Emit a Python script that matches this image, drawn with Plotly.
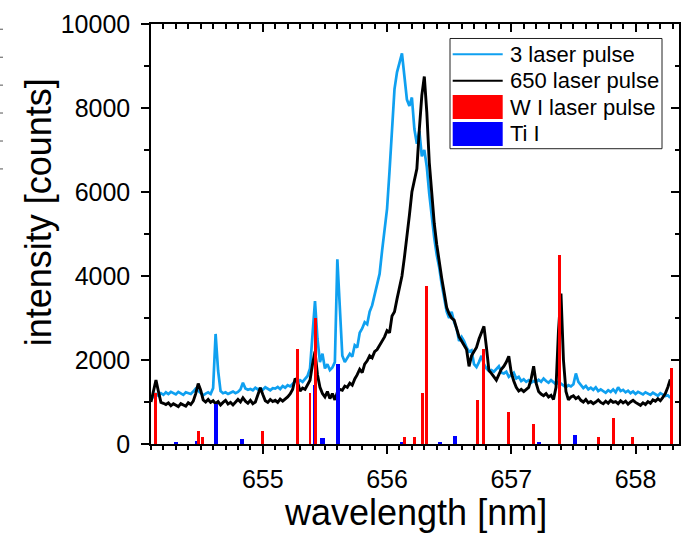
import numpy as np
import plotly.graph_objects as go

# Sampling grid of the recorded spectra (nm)
wavelength = np.round(np.arange(654.10, 658.28 + 1e-9, 0.02), 2)

# Spectrum recorded after 3 laser pulses (counts)
intensity_3_pulses = [
    1050, 1140, 1190, 1150, 1210, 1170, 1230, 1190, 1240, 1200,
    1180, 1240, 1200, 1170, 1230, 1210, 1190, 1250, 1320, 1270,
    1220, 1160, 1200, 1230, 1190, 1330, 2620, 1750, 1260, 1210,
    1230, 1190, 1220, 1250, 1210, 1240, 1300, 1460, 1320, 1290,
    1310, 1280, 1340, 1300, 1320, 1290, 1350, 1310, 1280, 1330,
    1320, 1360, 1310, 1380, 1340, 1400, 1370, 1430, 1490, 1460,
    1520, 1480, 1560, 1620, 1800, 2600, 3400, 2500, 1950, 2150,
    1800, 1900, 1760, 1820, 1950, 4400, 3100, 2100, 1950, 2050,
    2150, 2080, 2350, 2300, 2650, 2750, 2900, 2850, 3150, 3300,
    3550, 3850, 4050, 4600, 5150, 5600, 6500, 7450, 8450, 8850,
    9050, 9300, 8750, 8200, 8050, 8250, 7500, 7150, 7450, 6850,
    7000, 6600, 5950, 5400, 4900, 4500, 4200, 3800, 3450, 3150,
    3000, 3150, 2900, 2750, 2450, 2550, 2450, 2300, 2200, 2230,
    1900, 1830, 1950, 2100, 1900, 1800, 1740, 1760, 1720, 1780,
    1850, 1700, 1680, 1720, 1600, 1650, 1700, 1560, 1600, 1500,
    1540, 1480, 1520, 1460, 1500, 1470, 1530, 1480, 1560, 1500,
    1460, 1520, 1470, 1420, 1480, 1430, 1390, 1350, 1400, 1370,
    1420, 1680, 1480, 1390, 1330, 1380, 1300, 1340, 1290, 1350,
    1260, 1300, 1250, 1220, 1280, 1240, 1300, 1230, 1350, 1260,
    1290, 1230, 1270, 1210, 1250, 1190, 1240, 1200, 1180, 1230,
    1200, 1170, 1220, 1190, 1150, 1210, 1180, 1140, 1160, 1100,
]

# Spectrum recorded after 650 laser pulses (counts)
intensity_650_pulses = [
    1000, 1250, 1520, 1250, 990, 970, 940, 980, 910, 960,
    920, 890, 960, 930, 900, 980, 940, 1020, 1200, 1440,
    1280, 1050, 1000, 1060, 990, 1030, 960, 1010, 930, 990,
    1040, 950, 990, 930, 1000, 1060, 1000, 1100, 1020, 970,
    1040, 960, 1000, 1180, 1340, 1180, 1030, 990, 1060, 1010,
    1040, 990, 1070, 1020, 1060, 1120, 1190, 1300, 1560, 1480,
    1260, 1330, 1300, 1400, 1520, 1900, 2200, 1650, 1350, 1200,
    1120, 1250, 1080, 1200, 1050, 1230, 1300, 1280, 1380, 1350,
    1450, 1400, 1550, 1650, 1780, 1700, 1900, 1980, 2100, 2050,
    2200, 2250, 2350, 2450, 2550, 2700, 2650, 3050, 3150, 3450,
    3750, 4000, 4450, 4900, 5450, 6000, 6300, 6550, 7500, 8300,
    8750, 7900, 6700, 5950, 5250, 4750, 4300, 3950, 3600, 3250,
    3100, 3000, 2950, 2750, 2550, 2450, 2350, 2250, 1850, 2100,
    2200, 2300, 2500, 2650, 2800, 2300, 1750, 1680, 1600, 1520,
    1650, 1780, 1850, 1950, 2090, 1700, 1500, 1350, 1260, 1300,
    1250, 1300, 1350, 1550, 1850, 1450, 1250, 1190, 1150, 1200,
    1120, 1160, 1060, 1350, 2700, 3580, 2000, 1250, 1050, 1120,
    1150, 1080, 1120, 1040, 1000, 1060, 980, 1010, 960, 1000,
    1050, 990, 960, 1020, 970, 1040, 990, 1010, 960, 1030,
    980, 1020, 950, 1000, 1040, 990, 960, 920, 980, 940,
    1010, 970, 1050, 1020, 1080, 1030, 1110, 1200, 1350, 1540,
]

# Reference line positions (nm) and relative intensities
w_lines_nm = [654.134, 654.485, 654.517, 654.995, 655.279, 655.380, 655.424,
              656.138, 656.222, 656.286, 656.317, 656.729, 656.777, 656.975,
              657.178, 657.390, 657.703, 657.824, 657.975, 658.288]
w_lines_int = [1220, 315, 160, 320, 2265, 1210, 3010,
               155, 155, 1205, 3755, 1055, 2265, 755,
               465, 4505, 160, 615, 160, 1810]
ti_lines_nm = [654.300, 654.470, 654.624, 654.830, 655.418, 655.480, 655.603,
               656.125, 656.424, 656.546, 657.220, 657.510]
ti_lines_int = [55, 60, 955, 110, 1410, 145, 1900, 30, 25, 200, 40, 210]

legend_labels = ["3 laser pulse", "650 laser pulse", "W I laser pulse", "Ti I"]

LIGHT_BLUE = "#0FA0F0"
FONT = "Liberation Sans, Arial, sans-serif"
X_RANGE = [654.10, 658.35]
Y_RANGE = [0, 10000]

W, H = 689, 534
ML, MR, MT, MB = 151, 10, 18, 90
PW, PH = W - ML - MR, H - MT - MB


def px(xp):
    return (xp - ML) / PW


def py(yp):
    return (H - MB - yp) / PH


fig = go.Figure()

fig.add_trace(go.Scatter(x=wavelength, y=intensity_3_pulses, mode="lines",
                         line=dict(color=LIGHT_BLUE, width=2.7), showlegend=False))
fig.add_trace(go.Scatter(x=wavelength, y=intensity_650_pulses, mode="lines",
                         line=dict(color="black", width=2.9), showlegend=False))

# line markers sit on the overlaid axes so they are drawn above the spectra
fig.add_trace(go.Bar(x=ti_lines_nm, y=ti_lines_int, width=0.034,
                     marker=dict(color="#0000FF", line=dict(width=0)),
                     xaxis="x2", yaxis="y2", showlegend=False))
fig.add_trace(go.Bar(x=w_lines_nm, y=w_lines_int, width=0.022,
                     marker=dict(color="#FF0000", line=dict(width=0)),
                     xaxis="x2", yaxis="y2", showlegend=False))

axis_common = dict(showline=True, linecolor="black", linewidth=1.5, showgrid=False,
                   zeroline=False, tickcolor="black", tickwidth=1.5,
                   tickfont=dict(family=FONT, size=25, color="black"))

fig.update_layout(
    width=W, height=H,
    margin=dict(l=ML, r=MR, t=MT, b=MB),
    paper_bgcolor="white", plot_bgcolor="white",
    barmode="overlay", bargap=0,
    font=dict(family=FONT, color="black"),
    xaxis=dict(range=X_RANGE, tickmode="linear", tick0=655, dtick=1,
               ticks="outside", ticklen=8, ticklabelstandoff=4,
               minor=dict(tickmode="linear", tick0=655, dtick=0.1, ticks="outside",
                          ticklen=4, tickwidth=1.5, tickcolor="black"),
               **axis_common),
    yaxis=dict(range=Y_RANGE, tickmode="linear", tick0=0, dtick=2000,
               tickformat="d", ticks="outside", ticklen=8, ticklabelstandoff=6,
               minor=dict(tickmode="linear", tick0=0, dtick=1000, ticks="outside",
                          ticklen=5, tickwidth=1.5, tickcolor="black"),
               **axis_common),
    xaxis2=dict(range=X_RANGE, overlaying="x", side="top", tickmode="linear",
                tick0=655, dtick=1, ticks="inside", ticklen=8, showticklabels=False,
                minor=dict(tickmode="linear", tick0=655, dtick=0.1, ticks="inside",
                           ticklen=5, tickwidth=1.5, tickcolor="black"),
                **axis_common),
    yaxis2=dict(range=Y_RANGE, overlaying="y", side="right", tickmode="linear",
                tick0=0, dtick=2000, ticks="inside", ticklen=8, showticklabels=False,
                minor=dict(tickmode="linear", tick0=0, dtick=1000, ticks="inside",
                           ticklen=4, tickwidth=1.5, tickcolor="black"),
                **axis_common),
)

# axis titles
fig.add_annotation(text="wavelength [nm]", xref="paper", yref="paper",
                   x=0.5, y=py(513), xanchor="center", yanchor="middle",
                   showarrow=False, font=dict(family=FONT, size=36, color="black"))
fig.add_annotation(text="intensity [counts]", xref="paper", yref="paper",
                   x=px(38), y=py(209), xanchor="center", yanchor="middle",
                   textangle=-90, showarrow=False,
                   font=dict(family=FONT, size=36, color="black"))

# legend box
fig.add_shape(type="rect", xref="paper", yref="paper",
              x0=px(450), x1=px(662), y0=py(144.5), y1=py(32.7),
              line=dict(color="#222222", width=1), fillcolor="white", layer="above")
rows = [48.8, 75.6, 102.2, 128.6]
fig.add_shape(type="line", xref="paper", yref="paper", x0=px(452.7), x1=px(502.7),
              y0=py(rows[0]), y1=py(rows[0]), line=dict(color=LIGHT_BLUE, width=2),
              layer="above")
fig.add_shape(type="line", xref="paper", yref="paper", x0=px(452.7), x1=px(502.7),
              y0=py(rows[1]), y1=py(rows[1]), line=dict(color="black", width=2),
              layer="above")
fig.add_shape(type="rect", xref="paper", yref="paper", x0=px(452.7), x1=px(502.7),
              y0=py(114.3), y1=py(90), line=dict(width=0), fillcolor="#FF0000",
              layer="above")
fig.add_shape(type="rect", xref="paper", yref="paper", x0=px(452.7), x1=px(502.7),
              y0=py(141.7), y1=py(117.3), line=dict(width=0), fillcolor="#0000FF",
              layer="above")
for label, row in zip(legend_labels, rows):
    fig.add_annotation(text=label, xref="paper", yref="paper", x=px(508), y=py(row),
                       xanchor="left", yanchor="middle", showarrow=False,
                       font=dict(family=FONT, size=22, color="black"))

# small tick marks along the left page edge
for mark_y in [23.3, 51.7, 80.0, 108.3, 136.7, 165.0]:
    fig.add_shape(type="line", xref="paper", yref="paper", x0=px(0), x1=px(3),
                  y0=py(mark_y), y1=py(mark_y), line=dict(color="#555555", width=1))

fig.write_html("out.html")
